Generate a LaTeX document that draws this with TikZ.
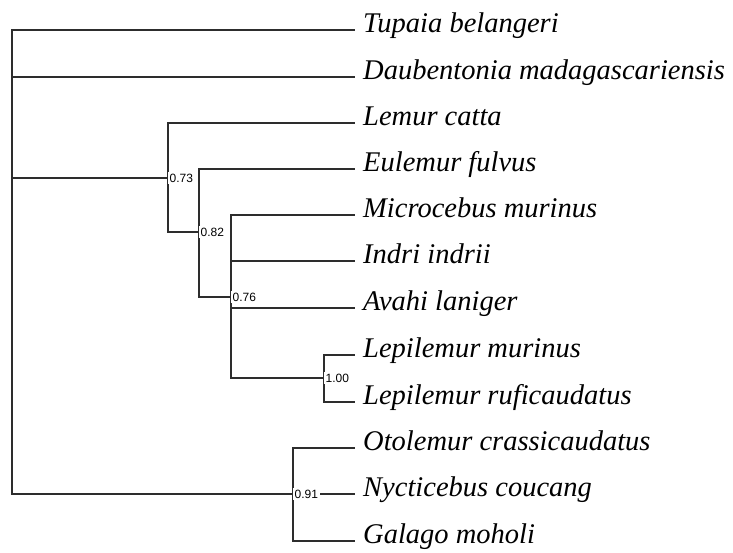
\documentclass[tikz,border=0pt]{standalone}
\usepackage{fontspec}
\setmainfont{Liberation Serif}
\newfontfamily\supportfont{Liberation Sans}
\usetikzlibrary{positioning}
\definecolor{TreeGray}{RGB}{45, 45, 45}

\begin{document}
\begin{tikzpicture}[
    x=1pt, y=-1pt,
    taxon/.style={anchor=west, inner xsep=8pt, inner ysep=0pt, text height=4pt, text depth=0pt,
      font=\fontsize{28.5}{30}\selectfont\itshape},
    support/.style={anchor=west, fill=white, inner sep=1.5pt, font=\supportfont\fontsize{12}{13}\selectfont},
    branch/.style={draw=TreeGray, line width=1.6pt}
  ]
    \useasboundingbox (0,0) rectangle (733,552);

    % Taxa
    \node[taxon] (tup) at (355,30) {Tupaia belangeri};
    \node[taxon] (dau) at (355,77) {Daubentonia madagascariensis};
    \node[taxon] (lem) at (355,123) {Lemur catta};
    \node[taxon] (eul) at (355,169) {Eulemur fulvus};
    \node[taxon] (mic) at (355,215) {Microcebus murinus};
    \node[taxon] (ind) at (355,261) {Indri indrii};
    \node[taxon] (ava) at (355,308) {Avahi laniger};
    \node[taxon] (lmu) at (355,355) {Lepilemur murinus};
    \node[taxon] (lru) at (355,402) {Lepilemur ruficaudatus};
    \node[taxon] (oto) at (355,448) {Otolemur crassicaudatus};
    \node[taxon] (nyc) at (355,494) {Nycticebus coucang};
    \node[taxon] (gal) at (355,541) {Galago moholi};

    % Internal nodes
    \coordinate (root) at (12,178);
    \coordinate (n73) at (168,178);
    \coordinate (n82) at (199,232);
    \coordinate (n76) at (231,297);
    \coordinate (n100) at (324,378);
    \coordinate (n91) at (293,494);

    % Branches
    \draw[branch] (root) |- (tup);
    \draw[branch] (root) |- (dau);
    \draw[branch] (root) -- (n73);
    \draw[branch] (root) |- (n91);
    \draw[branch] (n73) |- (lem);
    \draw[branch] (n73) |- (n82);
    \draw[branch] (n82) |- (eul);
    \draw[branch] (n82) |- (n76);
    \draw[branch] (n76) |- (mic);
    \draw[branch] (n76) |- (ind);
    \draw[branch] (n76) |- (ava);
    \draw[branch] (n76) |- (n100);
    \draw[branch] (n100) |- (lmu);
    \draw[branch] (n100) |- (lru);
    \draw[branch] (n91) |- (oto);
    \draw[branch] (n91) -- (nyc);
    \draw[branch] (n91) |- (gal);

    % Support values
    \node[support] (s73) at (n73) {0.73};
    \node[support] (s82) at (n82) {0.82};
    \node[support] (s76) at (n76) {0.76};
    \node[support] (s100) at (n100) {1.00};
    \node[support] (s91) at (n91) {0.91};
\end{tikzpicture}
\end{document}
